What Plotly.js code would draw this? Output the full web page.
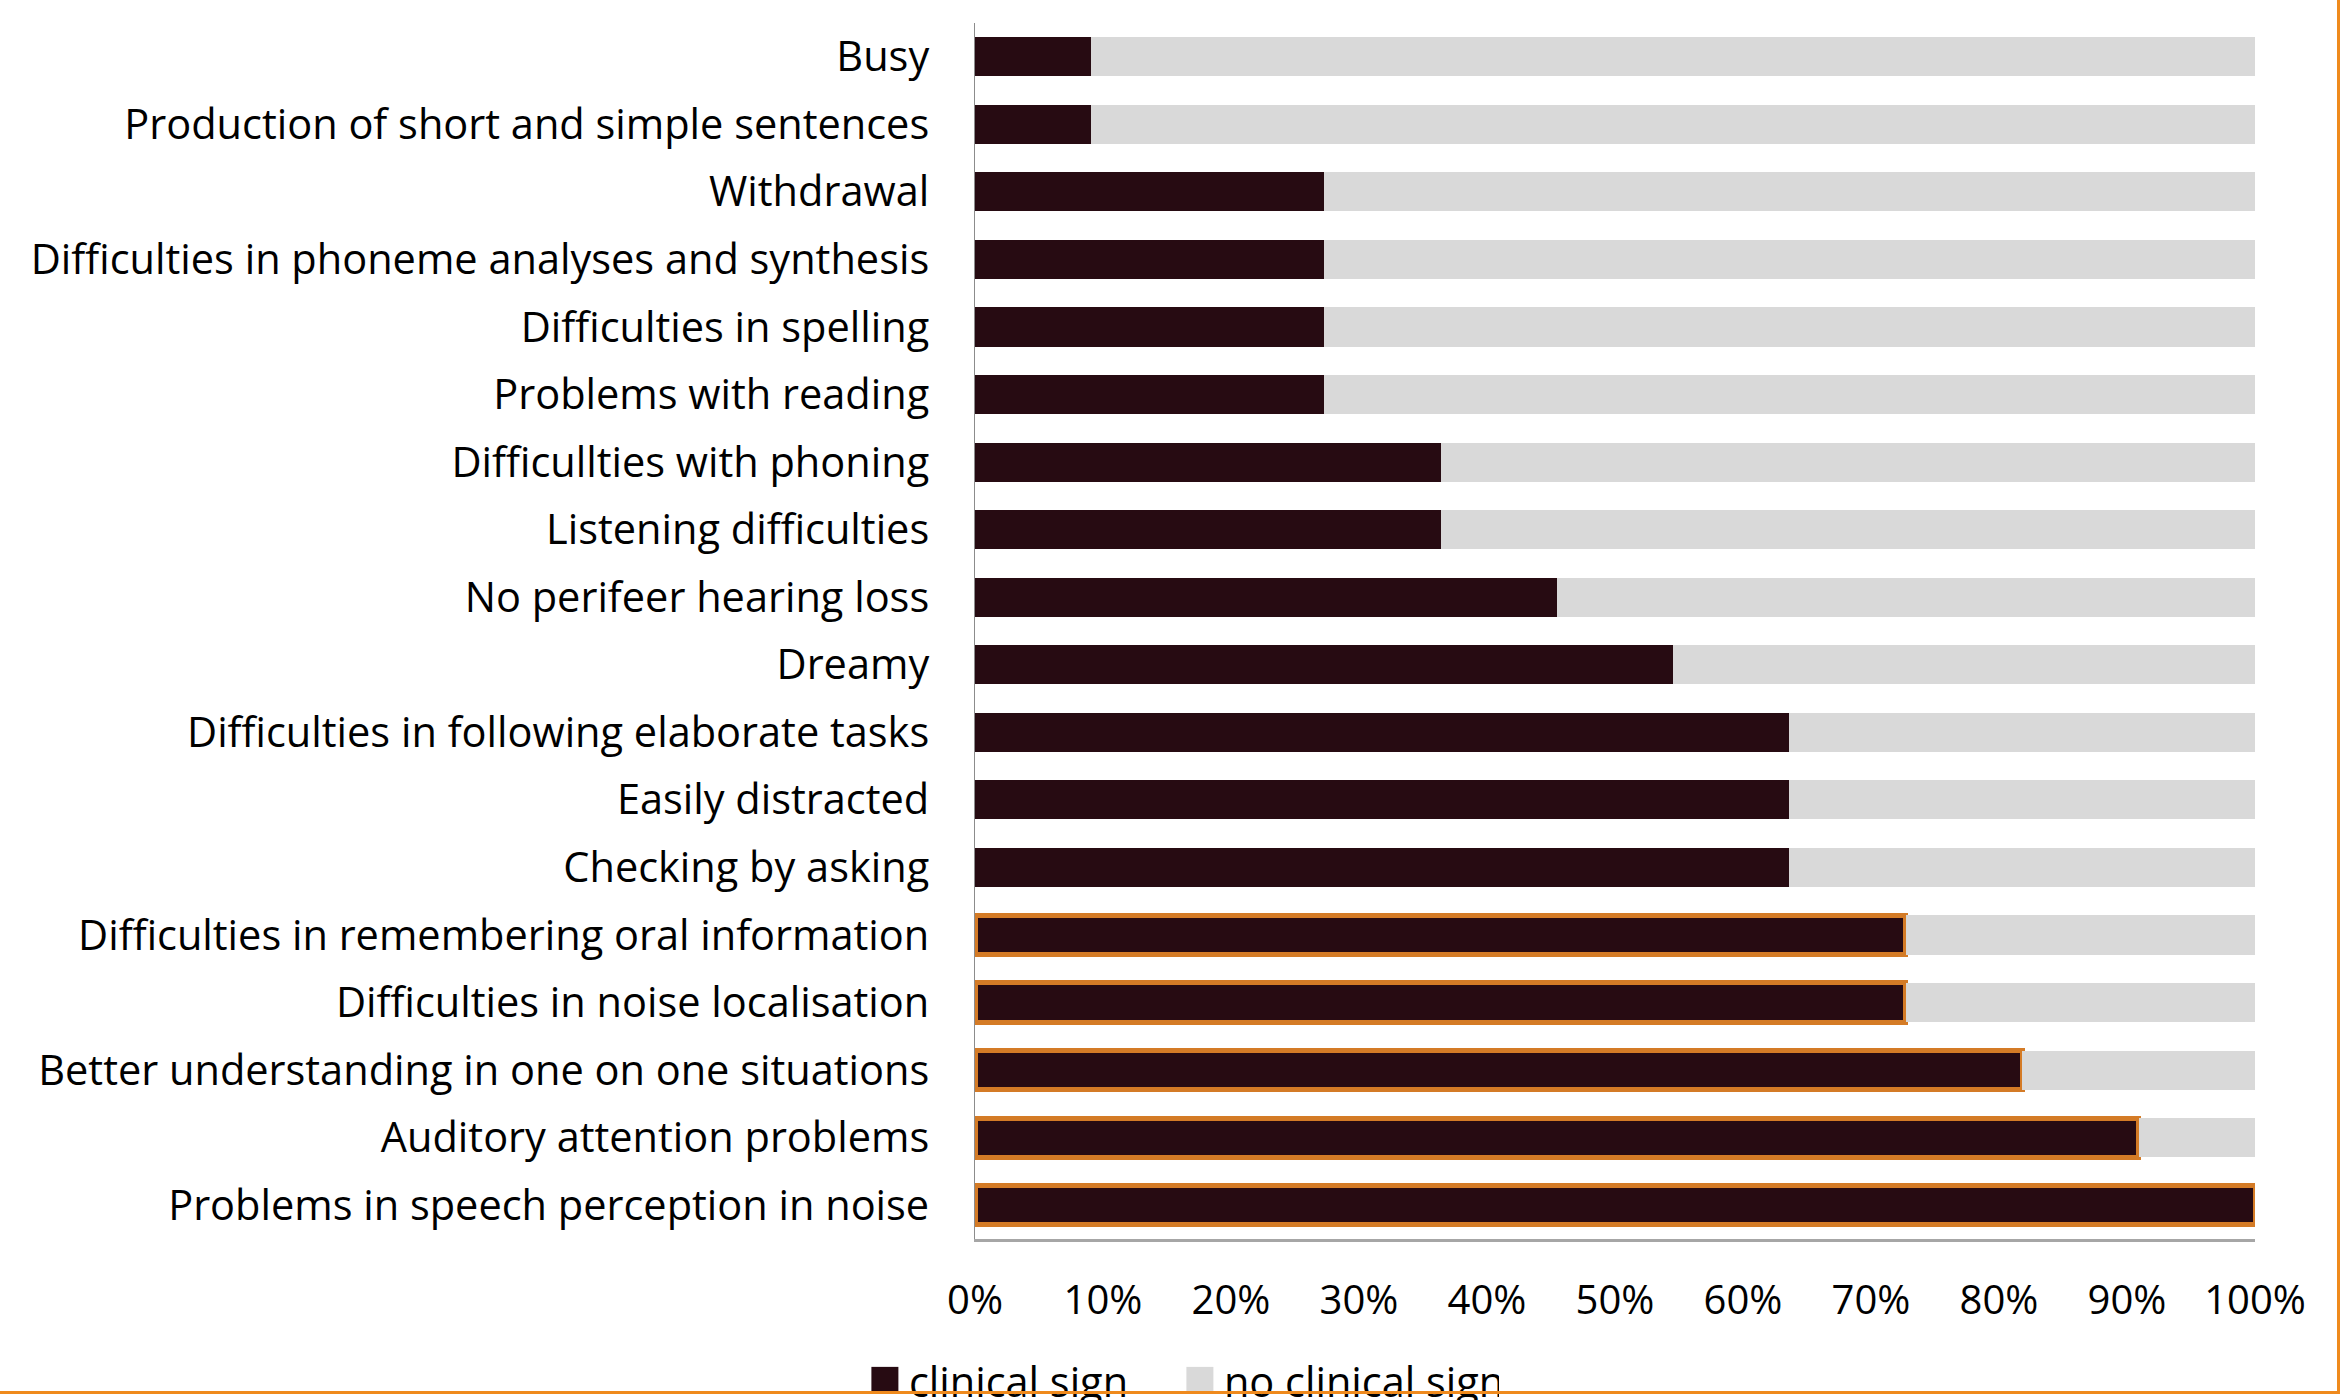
<!DOCTYPE html>
<html>
<head>
<meta charset="utf-8">
<script src="https://cdn.plot.ly/plotly-3.0.1.min.js"></script>
<style>
  html, body { margin: 0; padding: 0; background: #fff; }
  #wrap { position: relative; width: 2349px; height: 1400px; overflow: hidden; }
  #chart { position: absolute; left: 0; top: 0; width: 2349px; height: 1400px; }
  #frame { position: absolute; left: -20px; top: -20px; width: 2360px; height: 1414px;
           border-right: 3px solid #EF8A1D; border-bottom: 3px solid #EF8A1D;
           box-sizing: border-box; pointer-events: none; z-index: 10; }
</style>
</head>
<body>
<div id="wrap">
  <div id="chart"></div>
  <div id="frame"></div>
</div>
<script>
// ---- data (top to bottom as in the chart) ----
const categories = [
  "Busy",
  "Production of short and simple sentences",
  "Withdrawal",
  "Difficulties in phoneme analyses and synthesis",
  "Difficulties in spelling",
  "Problems with reading",
  "Difficullties with phoning",
  "Listening difficulties",
  "No perifeer hearing loss",
  "Dreamy",
  "Difficulties in following elaborate tasks",
  "Easily distracted",
  "Checking by asking",
  "Difficulties in remembering oral information",
  "Difficulties in noise localisation",
  "Better understanding in one on one situations",
  "Auditory attention problems",
  "Problems in speech perception in noise"
];
const clinicalSign = [9.1, 9.1, 27.3, 27.3, 27.3, 27.3, 36.4, 36.4, 45.5, 54.5, 63.6, 63.6, 63.6, 72.7, 72.7, 81.8, 90.9, 100];
const noClinicalSign = [90.9, 90.9, 72.7, 72.7, 72.7, 72.7, 63.6, 63.6, 54.5, 45.5, 36.4, 36.4, 36.4, 27.3, 27.3, 18.2, 9.1, 0];
const highlighted = [
  "Difficulties in remembering oral information",
  "Difficulties in noise localisation",
  "Better understanding in one on one situations",
  "Auditory attention problems",
  "Problems in speech perception in noise"
];
const tickValues = [0, 10, 20, 30, 40, 50, 60, 70, 80, 90, 100];
const tickLabels = ["0%", "10%", "20%", "30%", "40%", "50%", "60%", "70%", "80%", "90%", "100%"];
const seriesNames = ["clinical sign", "no clinical sign"];

// ---- styles ----
const DARK = "#270B12";
const GREY = "#D9D9D9";
const OUTLINE = "#D47B26";
const FONT = "'Open Sans', Lato, sans-serif";

const isHi = categories.map(c => highlighted.indexOf(c) >= 0);

const traces = [
  {
    type: "bar", orientation: "h", name: seriesNames[0],
    y: categories, x: clinicalSign,
    marker: {
      color: DARK,
      line: {
        color: isHi.map(h => h ? OUTLINE : DARK),
        width: isHi.map(h => h ? 5 : 0)
      }
    },
    cliponaxis: false,
    hoverinfo: "skip"
  },
  {
    type: "bar", orientation: "h", name: seriesNames[1],
    y: categories, x: noClinicalSign,
    marker: { color: GREY, line: { width: 0 } },
    cliponaxis: false,
    hoverinfo: "skip"
  }
];

const layout = {
  width: 2349, height: 1400,
  paper_bgcolor: "#fff", plot_bgcolor: "#fff",
  margin: { l: 975, r: 94, t: 23, b: 161, pad: 0 },
  barmode: "stack",
  bargap: 0.42,
  font: { family: FONT, size: 41.5, color: "#000" },
  xaxis: {
    range: [0, 100],
    tickvals: tickValues, ticktext: tickLabels,
    showgrid: false, zeroline: false,
    showline: true, linecolor: "#A6A6A6", linewidth: 2.5,
    ticks: "", ticklabelstandoff: 24,
    tickfont: { family: FONT, size: 40, color: "#000" },
    fixedrange: true
  },
  yaxis: {
    type: "category",
    categoryorder: "array", categoryarray: categories,
    autorange: "reversed",
    showgrid: false, zeroline: false,
    showline: true, linecolor: "#8C8C8C", linewidth: 1.5,
    ticks: "", ticklabelstandoff: 36,
    tickfont: { family: FONT, size: 41.5, color: "#000" },
    fixedrange: true
  },
  showlegend: true,
  legend: {
    orientation: "h",
    xref: "container", yref: "container",
    x: 0.504, xanchor: "center",
    y: 0.014, yanchor: "middle",
    font: { family: FONT, size: 41.5, color: "#000" },
    traceorder: "normal",
    entrywidth: 270, entrywidthmode: "pixels",
    itemclick: false, itemdoubleclick: false
  }
};

Plotly.newPlot("chart", traces, layout, { displayModeBar: false, staticPlot: true }).then(function () {
  // enlarge the legend swatches to match the reference's square keys
  document.querySelectorAll("#chart .legend .legendpoints path").forEach(function (p) {
    const t = p.getAttribute("transform") || "";
    p.setAttribute("transform", t + " translate(-4,0) scale(2.25)");
  });
});
</script>
</body>
</html>
